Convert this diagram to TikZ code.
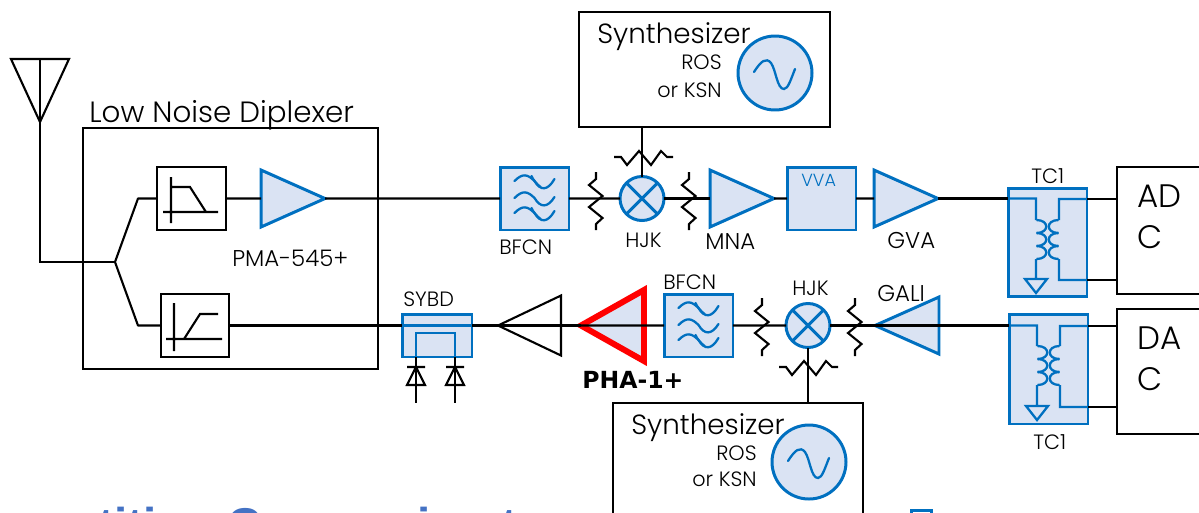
\documentclass[tikz,border=0pt]{standalone}
\usepackage{fontspec}
\setmainfont{Poppins}[UprightFont=* Light, BoldFont=* SemiBold]
\newfontfamily\headfont{Liberation Sans}
\newfontfamily\partfont{DejaVu Sans}
\usetikzlibrary{shapes.geometric}
\definecolor{partblue}{HTML}{0070C0}
\definecolor{partfill}{HTML}{DAE3F3}
\definecolor{titleblue}{HTML}{4472C4}
\tikzset{
  wire/.style={line width=1.2pt, black},
  box/.style={draw, line width=1.2pt, fill=white, rectangle, inner sep=0pt, outer sep=0pt, anchor=north west},
  part/.style={box, draw=partblue, fill=partfill, line width=1.7pt},
  amp/.style={isosceles triangle, isosceles triangle apex angle=50, isosceles triangle stretches, inner sep=0pt, outer sep=0pt,
    minimum width=1.14cm, minimum height=1.28cm, anchor=apex, draw=partblue, fill=partfill, line width=1.7pt, line join=miter},
  mixer/.style={circle, draw=partblue, fill=partfill, line width=1.7pt, minimum size=.88cm, inner sep=0pt, outer sep=0pt},
  txt/.style={font=\fontsize{11.8}{13}\selectfont, inner sep=0pt, anchor=base west},
  widetxt/.style={txt, font=\fontsize{13}{15}\selectfont},
  bigtxt/.style={font=\fontsize{16.7}{19}\selectfont, inner sep=0pt, anchor=base west},
  syntxt/.style={bigtxt, font=\fontsize{15.8}{19}\selectfont},
  convtxt/.style={bigtxt, font=\fontsize{18.5}{23.5}\selectfont, anchor=north west, align=left},
  pads/.pic={\draw[wire, line join=miter] (0,-27) -- (0,-20) -- (-7,-14) -- (6.5,-3) -- (-7,8) -- (6.5,19) -- (0,25) -- (0,31);},
  padsh/.pic={\draw[wire, line join=miter] (-29,0) -- (-22,0) -- (-16,8) -- (-4,-6) -- (8,8) -- (18,-6) -- (24,0) -- (30,0);},
  waves/.pic={
    \begin{scope}[partblue, line width=1.3pt, line cap=round]
      \foreach \dy in {-16,16}{
        \draw (-20,\dy-1) .. controls (-12,\dy-9) and (-7,\dy-8) .. (0,\dy-1) .. controls (6,\dy+9) and (13,\dy+9) .. (20,\dy-3);
        \draw (-3,\dy-6) .. controls (-2,\dy-3) and (2,\dy+2) .. (6,\dy+5);
      }
      \draw (-20,0) .. controls (-12,-8) and (-7,-7) .. (0,0) .. controls (6,10) and (13,10) .. (20,-1);
    \end{scope}},
  sine/.pic={\draw[partblue, line width=1.3pt, line cap=round] (-21,-1) .. controls (-14,-12) and (-9,-16) .. (-4,-10) .. controls (1,-3) and (2,16) .. (9,16) .. controls (13,16) and (16,6) .. (20,-4);},
  coil/.pic={
    \begin{scope}[partblue, line width=1.3pt]
      % primary and secondary windings
      \foreach \k in {0,1,2}{
        \draw (-11,\k*13) .. controls (2,\k*13) and (2,\k*13+13) .. (-11,\k*13+13);
        \draw (11,\k*13) .. controls (-2,\k*13) and (-2,\k*13+13) .. (11,\k*13+13);
      }
    \end{scope}},
  diode/.pic={
    \draw[wire, line join=miter] (-9,0) -- (9,0) (0,0) -- (-9,18) -- (9,18) -- cycle;}
}
\begin{document}
\begin{tikzpicture}[x=0.02cm, y=-0.02cm]
  \clip (0,0) rectangle (1199,512);
  % Antenna and split
  \node[amp, draw=black, fill=none, line width=1.2pt, shape border rotate=270, minimum width=1.16cm, minimum height=1.26cm] (ant) at (40,122) {};
  \coordinate (anttop) at (40,59);
  \coordinate (split) at (115,262);
  \coordinate (splitup) at (138,198.5);
  \coordinate (splitdn) at (138,325.5);
  % Low Noise Diplexer
  \node[box, fill=none, minimum width=5.9cm, minimum height=4.82cm] (dplx) at (83,128) {};
  \node[bigtxt] (dplxlab) at (89,122) {Low Noise Diplexer};
  \node[box, minimum width=1.38cm, minimum height=1.26cm] (lpf) at (157,167) {};
  \node[box, minimum width=1.36cm, minimum height=1.26cm] (hpf) at (161,294) {};
  \draw[wire] (171,177) -- (171,223) (163,212) -- (218,212) (171,187) -- (190,187) -- (206,212);
  \draw[wire] (174,303) -- (174,351) (166,339) -- (222,339) (184,339) -- (200,314) -- (218,314);
  \node[amp] (pma) at (325,198.5) {};
  \node[widetxt] (pmalab) at (232,266) {PMA-545+};
  % Upper chain
  \node[part, minimum width=1.38cm, minimum height=1.26cm] (bfcnup) at (500,167) {};
  \pic at (534.5,198) {waves};
  \node[txt] (bfcnuplab) at (499,254) {BFCN};
  \pic at (596,199) {pads};
  \node[mixer] (mixup) at (642,198.5) {};
  \draw[partblue, line width=1.7pt] (mixup.north west) -- (mixup.south east) (mixup.north east) -- (mixup.south west);
  \node[txt] (mixuplab) at (625,247) {HJK};
  \pic at (689,199) {pads};
  \node[amp] (mna) at (774,198.5) {};
  \node[widetxt] (mnalab) at (705,249) {MNA};
  \node[part, minimum width=1.38cm, minimum height=1.26cm] (vva) at (787,167) {};
  \node[txt, text=partblue, font=\fontsize{10}{11}\selectfont] (vvalab) at (801,186) {VVA};
  \node[amp] (gva) at (938,198.5) {};
  \node[widetxt] (gvalab) at (887,248) {GVA};
  % Upper synthesizer
  \node[box, minimum width=5.02cm, minimum height=2.3cm] (synup) at (579,12) {};
  \node[syntxt] (synuplab) at (597,43) {Synthesizer};
  \node[txt, anchor=base east] (rosup) at (722,69) {ROS};
  \node[txt, anchor=base east] (ksnup) at (722,97) {or KSN};
  \node[mixer, minimum size=1.48cm] (oscup) at (775,73) {};
  \pic at (775,73) {sine};
  \pic at (643,157) {padsh};
  % Lower chain
  \node[part, minimum width=1.4cm, minimum height=.86cm] (sybd) at (402,314) {};
  \node[txt] (sybdlab) at (403,306) {SYBD};
  \draw[partblue, line width=1.2pt] (402,325.5) -- (472,325.5);
  \draw[partblue, line width=1.2pt] (416,357) -- (416,333) -- (455,333) -- (455,357);
  \draw[wire] (416,357) -- (416,403) (455,357) -- (455,403);
  \pic at (416,367) {diode};
  \pic at (455,367) {diode};
  \node[amp, draw=black, fill=white, line width=1.2pt, shape border rotate=180, minimum width=1.2cm, minimum height=1.26cm] (drv) at (498,325.5) {};
  \node[amp, draw=red, line width=3.4pt, shape border rotate=180, minimum width=1.42cm, minimum height=1.26cm] (pha) at (581,325.5) {};
  \node[txt, font=\partfont\bfseries\fontsize{13.4}{15}\selectfont] (phalab) at (582,388) {PHA-1+};
  \node[part, minimum width=1.38cm, minimum height=1.26cm] (bfcndn) at (664,294) {};
  \pic at (698.5,325) {waves};
  \node[txt] (bfcndnlab) at (663,289) {BFCN};
  \pic at (762,325) {pads};
  \node[mixer] (mixdn) at (808,325.5) {};
  \draw[partblue, line width=1.7pt] (mixdn.north west) -- (mixdn.south east) (mixdn.north east) -- (mixdn.south west);
  \node[txt] (mixdnlab) at (792,295) {HJK};
  \pic at (855,325) {pads};
  \node[amp, shape border rotate=180] (gali) at (875,325.5) {};
  \node[widetxt] (galilab) at (877,301) {GALI};
  % Lower synthesizer
  \node[box, minimum width=5cm, minimum height=3.2cm] (syndn) at (613,403) {};
  \node[syntxt] (syndnlab) at (631,434) {Synthesizer};
  \node[txt, anchor=base east] (rosdn) at (757,460) {ROS};
  \node[txt, anchor=base east] (ksndn) at (757,486) {or KSN};
  \node[mixer, minimum size=1.48cm] (oscdn) at (809,462) {};
  \pic at (809,462) {sine};
  \pic at (808,367) {padsh};
  % Baluns
  \node[part, minimum width=1.58cm, minimum height=2.18cm] (tcup) at (1008,188) {};
  \node[txt] (tcuplab) at (1031,183) {TC1};
  \pic at (1047.5,220) {coil};
  \node[part, minimum width=1.58cm, minimum height=2.2cm] (tcdn) at (1009,314) {};
  \node[txt] (tcdnlab) at (1033,449) {TC1};
  \pic at (1048.5,346) {coil};
  \coordinate (tcupin) at (1008,198.5);
  \coordinate (tcupa) at (1087,199);
  \coordinate (tcupb) at (1087,280);
  \coordinate (tcdnin) at (1009,325.5);
  \coordinate (tcdna) at (1088,326);
  \coordinate (tcdnb) at (1088,407);
  \draw[partblue, line width=1.3pt]
    (tcupin) -- (1036,198.5) -- (1036,220) (1036,259) -- (1036,279)
    (tcupa) -- (1059,199) -- (1059,220) (1059,259) -- (1059,280) -- (tcupb)
    (1025,279) -- (1047,279) -- (1036,293) -- cycle;
  \draw[partblue, line width=1.3pt]
    (tcdnin) -- (1037,325.5) -- (1037,346) (1037,385) -- (1037,405)
    (tcdna) -- (1060,326) -- (1060,346) (1060,385) -- (1060,407) -- (tcdnb)
    (1026,406) -- (1048,406) -- (1037,420) -- cycle;
  % Converters
  \node[box, minimum width=2cm, minimum height=2.54cm] (adc) at (1117,167) {};
  \node[convtxt] (adclab) at (1137,184) {AD\\C};
  \node[box, minimum width=2cm, minimum height=2.5cm] (dac) at (1117,309) {};
  \node[convtxt] (daclab) at (1137,326) {DA\\C};
  % Connections
  \draw[wire, line join=miter] (ant.apex) -- (anttop);
  \draw[wire, line join=miter] (anttop) -- (split -| anttop) -- (split);
  \draw[wire, line join=round] (lpf.west) -- (splitup) -- (split) -- (splitdn) -- (hpf.west);
  \draw[wire] (lpf.east) -- (pma.west);
  \draw[wire] (pma.apex) -- (bfcnup.west);
  \draw[wire] (bfcnup.east) -- (mixup.west);
  \draw[wire] (mixup.east) -- (mna.west);
  \draw[wire] (mna.apex) -- (vva.west);
  \draw[wire] (vva.east) -- (gva.west);
  \draw[wire] (gva.apex) -- (tcupin);
  \draw[wire] (synup.south -| mixup) -- (mixup.north);
  \draw[wire] (hpf.east) -- (sybd.west |- hpf.east);
  \draw[wire] (sybd.east |- drv.apex) -- (drv.apex);
  \draw[wire] (drv.west) -- (pha.apex);
  \draw[wire] (pha.west) -- (bfcndn.west);
  \draw[wire] (bfcndn.east) -- (mixdn.west);
  \draw[wire] (mixdn.east) -- (gali.apex);
  \draw[wire] (gali.west) -- (tcdnin);
  \draw[wire] (mixdn.south) -- (syndn.north -| mixdn);
  \draw[wire] (tcupa) -- (adc.west |- tcupa);
  \draw[wire] (tcupb) -- (adc.west |- tcupb);
  \draw[wire] (tcdna) -- (dac.west |- tcdna);
  \draw[wire] (tcdnb) -- (dac.west |- tcdnb);
  % Cut off at the lower edge
  \node[inner sep=0pt, anchor=base west, text=titleblue, font=\headfont\bfseries\fontsize{27}{30}\selectfont] (titlelab) at (98,541) {tition Conversion t};
  \node[box, draw=partblue, minimum width=.4cm, minimum height=1cm, line width=1.7pt] (cutbox) at (911,510) {};
\end{tikzpicture}
\end{document}
